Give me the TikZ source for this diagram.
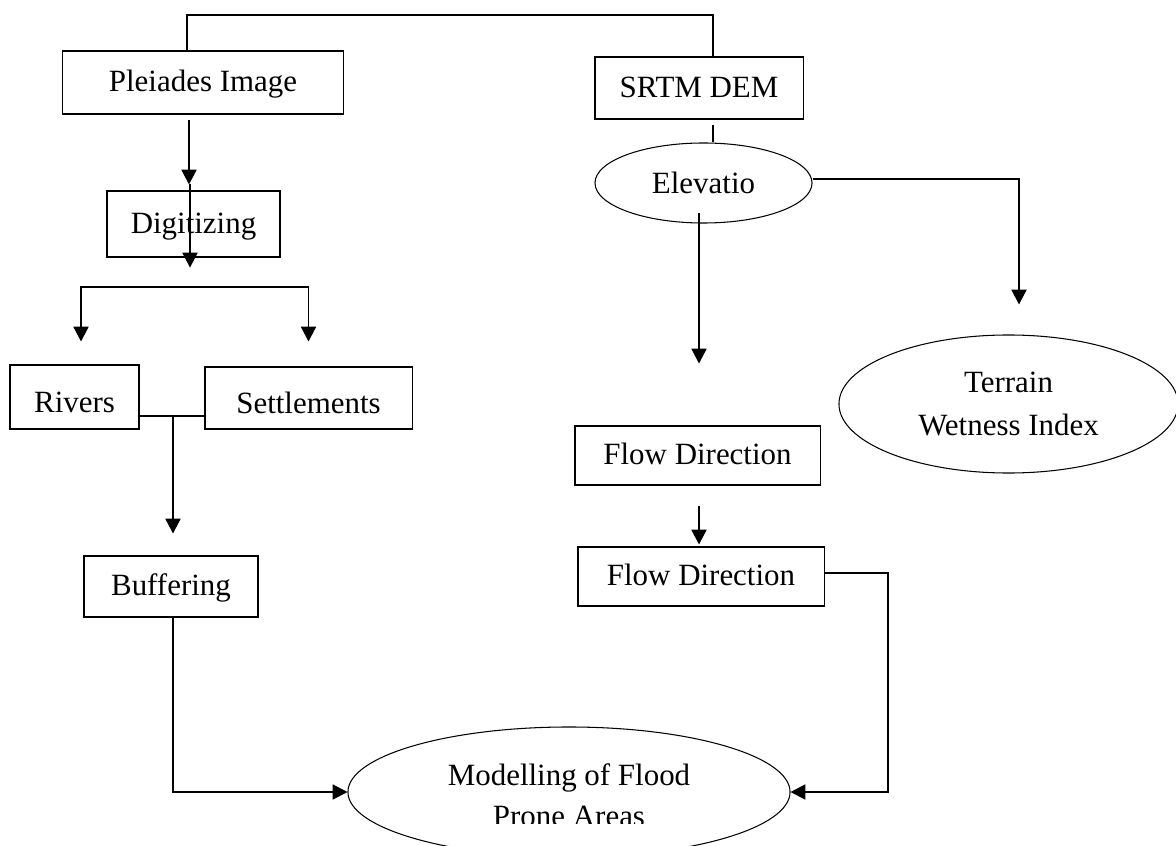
\documentclass[tikz,border=0pt]{standalone}
\usepackage{fontspec}
\setmainfont{Liberation Serif}
\usetikzlibrary{shapes.geometric,arrows.meta,calc}

\begin{document}
\begin{tikzpicture}[x=0.025cm,y=-0.025cm,font=\fontsize{22}{29.5}\selectfont,
  box/.style={draw,line width=0.75pt,inner sep=0pt,text height=15pt,text depth=1.5pt},
  low/.style={text height=24pt},
  oval/.style={ellipse,draw,line width=0.75pt,inner sep=0pt,align=center},
  line/.style={line width=0.75pt},
  arr/.style={line width=0.75pt,-{Triangle[length=3.7mm,width=3.8mm]}}]
\useasboundingbox (0,0) rectangle (1176,846);

% Sources
\node[box,minimum width=7cm,minimum height=1.575cm] (pleiades) at (203,82.5) {Pleiades Image};
\node[box,minimum width=5.2cm,minimum height=1.55cm] (srtm) at (699,88) {SRTM DEM};
% Pleiades branch
\node[box,minimum width=4.325cm,minimum height=1.65cm] (digit) at (193.5,224) {Digitizing};
\node[box,low,minimum width=3.225cm,minimum height=1.6cm] (rivers) at (74.5,397) {Rivers};
\node[box,low,minimum width=5.175cm,minimum height=1.55cm] (settl) at (308.5,398) {Settlements};
\node[box,minimum width=4.35cm,minimum height=1.525cm] (buffer) at (171,586.5) {Buffering};
% DEM branch
\node[oval,minimum width=5.425cm,minimum height=2cm] (elev) at (703.5,183) {Elevatio};
\node[oval,font=\fontsize{22}{31}\selectfont,minimum width=8.475cm,minimum height=3.45cm] (twi) at (1008.5,404) {Terrain\\Wetness Index};
\node[box,minimum width=6.125cm,minimum height=1.475cm] (fd1) at (697.5,455.5) {Flow Direction};
\node[box,minimum width=6.15cm,minimum height=1.475cm] (fd2) at (701,576.5) {Flow Direction};
% Result
\node[oval,minimum width=11.05cm,minimum height=3.25cm] (model) at (569,792) {};
\begin{scope}
  \clip (340,700) rectangle (800,823);
  \node[align=center,inner sep=0pt] (modeltxt) at (model) [yshift=-0.08cm] {Modelling of Flood\\Prone Areas};
\end{scope}

\coordinate (jl) at (187,15); \coordinate (jr) at (713,15);
\coordinate (dl) at (189,0); \coordinate (sl) at (81,287); \coordinate (sr) at (308.5,287);
\coordinate (mj) at (173,416); \coordinate (ex) at (699,0); \coordinate (tx) at (1019,179);
\coordinate (rx) at (888,573);
% top joint
\draw[line] (pleiades.north -| jl) |- (jr) -- (srtm.north -| jr);
\draw[line] ($(srtm.south -| jr)+(0,5)$) -- (elev.north -| jr);
% left branch
\draw[arr] ($(pleiades.south -| dl)+(0,5)$) -- ($(digit.north -| dl)+(0,-6)$);
\draw[arr] ($(digit.north -| dl)+(1,-6)$) -- ($(digit.south -| dl)+(1,10)$);
\draw[arr] (sr) -- (sl) -- ($(rivers.north -| sl)+(0,-23)$);
\draw[arr] (sr) -- ($(settl.north)+(0,-25)$);
\draw[line] (rivers.east |- mj) -- (settl.west |- mj);
\draw[arr] (mj) -- ($(buffer.north -| mj)+(0,-22)$);
\draw[arr] (buffer.south -| mj) |- (model.west);
% right branch
\draw[arr] ($(elev.south -| ex)+(0,-11)$) -- ($(fd1.north -| ex)+(0,-62)$);
\draw[arr] (elev.east |- tx) -| ($(twi.north -| tx)+(0,-30)$);
\draw[arr] ($(fd1.south -| ex)+(0,20)$) -- ($(fd2.north -| ex)+(0,-2)$);
\draw[arr] (fd2.east |- rx) -- (rx) |- (model.east);
\end{tikzpicture}
\end{document}
